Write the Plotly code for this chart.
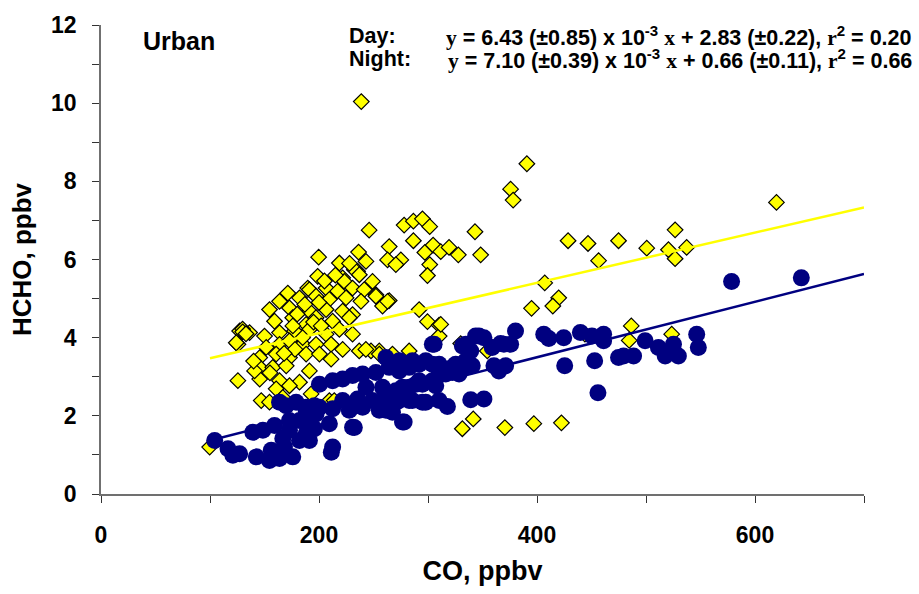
import plotly.graph_objects as go

# ---- Data ----
day_co = [375.8, 378.1, 619.7, 278.1, 286.6, 294.9, 301.6, 343.1, 264.4, 286.6,
          297.1, 304.7, 311.7, 319.3, 327.8, 348.3, 262.9, 275.1, 270.5, 301.6,
          299.5, 428.5, 446.8, 474.8, 526.7, 500.7, 520.6, 526.7, 537.3, 456.5,
          407.1, 419.9, 414.5, 395.0, 291.9, 299.5, 310.2, 310.2, 264.4, 258.3,
          486.5, 484.6, 523.6, 330.0, 255.3, 341.5, 331.5, 370.5, 397.1, 422.4,
          238.8, 390.7, 246.0, 199.7, 218.7, 236.3, 243.1, 198.8, 189.7, 221.7,
          235.4, 249.1, 252.2, 262.9, 232.4, 237.0, 223.2,
          171.4, 191.2, 206.5, 217.1, 230.8, 241.5, 252.2, 163.8, 182.1, 197.3,
          209.5, 224.8, 238.5, 154.6, 172.9, 191.2, 206.5, 221.7, 230.8, 159.2,
          175.9, 188.2, 197.3, 212.5, 227.8, 127.2, 136.3, 125.6, 150.0, 163.8,
          177.5, 191.2, 206.5, 218.7, 230.8, 151.6, 163.8, 172.9, 185.1, 197.3,
          211.1, 221.7, 145.6, 160.7, 172.9, 188.2, 200.4, 211.1, 145.6, 157.6,
          169.9, 191.2, 125.6, 145.6, 163.8, 182.1, 140.9, 160.7, 172.9, 147.0,
          154.6, 166.8, 192.8, 209.5, 236.9, 247.7, 255.3, 267.4, 99.7, 124.1,
          129.9, 214.0, 243.0, 282.7, 311.7, 354.4, 444.0, 130.0, 133.0,
          180.0, 200.0, 215.0, 205.0, 228.0, 185.0, 195.0, 178.0, 168.0, 155.0,
          140.0, 202.0, 187.0, 176.0]
day_hcho = [7.80, 7.52, 7.46, 6.88, 6.98, 7.04, 6.84, 6.71, 6.33, 6.48,
            6.18, 6.37, 6.20, 6.31, 6.12, 6.12, 5.99, 5.99, 5.87, 5.87,
            5.59, 6.48, 6.41, 6.48, 6.76, 6.29, 6.25, 6.02, 6.31, 5.97,
            5.40, 5.02, 4.81, 4.75, 4.72, 4.41, 4.32, 4.04, 4.95, 4.81,
            4.30, 3.93, 4.09, 3.85, 3.66, 1.92, 1.67, 1.70, 1.80, 1.82,
            10.04, 8.45, 6.75, 6.06, 5.91, 6.19, 5.95, 5.57, 5.27, 5.53,
            5.70, 5.44, 5.10, 4.93, 5.74, 5.61, 5.44,
            5.14, 5.23, 5.27, 5.19, 5.27, 5.23, 5.06, 4.93, 5.02, 5.06,
            4.98, 5.02, 4.93, 4.72, 4.76, 4.68, 4.72, 4.68, 4.59, 4.42,
            4.51, 4.34, 4.51, 4.42, 4.51, 4.17, 4.13, 3.83, 4.04, 4.13,
            4.17, 4.21, 4.09, 4.21, 4.09, 3.75, 3.83, 3.92, 3.83, 3.83,
            3.83, 3.70, 3.49, 3.58, 3.49, 3.58, 3.58, 3.45, 3.24, 3.24,
            3.28, 3.15, 2.90, 2.94, 2.90, 2.86, 3.15, 2.69, 2.77, 2.39,
            2.35, 2.47, 2.56, 2.39, 3.66, 3.66, 3.58, 3.58, 1.20, 3.87,
            4.22, 2.39, 3.70, 3.66, 4.34, 3.66, 4.09, 4.15, 4.10,
            4.60, 4.90, 5.60, 5.45, 5.90, 4.00, 4.40, 3.70, 3.60, 3.10,
            3.40, 4.30, 4.85, 4.30]

night_co = [578.5, 642.5, 380.3, 406.2, 410.8, 424.5, 439.8, 450.4, 461.1, 461.1,
            305.6, 331.5, 343.7, 351.3, 358.9, 369.6, 375.8, 499.2, 511.4, 525.2,
            517.6, 529.7, 546.5, 548.0, 479.4, 488.6, 425.4, 452.9, 455.9, 360.5,
            371.2, 261.4, 273.6, 285.7, 297.9, 310.2, 322.3, 334.6, 316.3, 328.5,
            291.9, 304.0, 276.6, 288.8, 261.4, 270.5, 282.7, 294.9, 310.2, 317.8,
            339.2, 351.3, 278.1, 261.4, 346.8, 366.6, 334.6, 339.2, 325.4, 340.6,
            322.3, 331.5, 365.0, 474.8, 304.0, 200.4, 212.5, 221.7, 230.8, 240.0,
            252.2, 264.4, 273.6, 282.7, 291.9, 304.0, 310.2, 243.1, 258.3, 270.5,
            282.7, 294.9, 307.1, 221.7, 235.4, 249.1, 261.4, 273.6, 285.7, 297.9,
            188.2, 200.4, 212.5, 227.8, 240.0, 255.3, 267.4, 276.6, 195.8, 209.5,
            230.8, 212.5, 188.2, 182.1, 104.3, 116.5, 121.0, 127.2, 139.3, 148.5,
            159.2, 142.5, 156.2, 154.6, 163.8, 175.9, 166.8, 163.8, 169.9, 179.0,
            188.2, 195.8, 172.9, 182.1, 191.2, 172.9, 168.3, 197.3, 191.2, 211.3,
            232.4]
night_hcho = [5.44, 5.53, 4.17, 4.09, 3.98, 4.00, 4.13, 4.04, 4.09, 3.92,
              3.83, 3.79, 4.04, 4.00, 3.75, 3.83, 3.83, 3.92, 3.75, 3.83,
              3.53, 3.53, 4.09, 3.75, 3.53, 3.53, 3.28, 3.41, 2.59, 3.28,
              3.28, 3.49, 3.41, 3.41, 3.41, 3.32, 3.24, 3.41, 3.07, 3.07,
              2.90, 2.90, 2.73, 2.81, 2.56, 2.35, 2.39, 2.35, 2.39, 2.24,
              2.41, 2.43, 1.84, 2.14, 4.04, 3.85, 3.83, 3.66, 3.32, 3.28,
              3.11, 3.20, 3.15, 3.49, 3.83, 2.81, 2.90, 2.94, 3.03, 3.07,
              3.11, 3.24, 3.15, 3.24, 3.32, 3.32, 3.15, 2.73, 2.73, 2.64,
              2.73, 2.81, 2.77, 2.39, 2.43, 2.39, 2.47, 2.39, 2.39, 2.35,
              2.14, 2.22, 2.18, 2.14, 2.22, 2.14, 2.09, 1.84, 1.67, 1.80,
              1.71, 1.20, 1.54, 1.37, 1.37, 1.16, 0.99, 1.03, 1.58, 1.63,
              1.75, 0.95, 1.12, 0.86, 0.91, 0.95, 1.42, 2.35, 2.26, 2.35,
              2.22, 2.26, 1.88, 1.88, 1.80, 1.63, 1.20, 2.05, 1.37, 1.07,
              1.70]

# regression fits (from the equations shown)
fit_x = [100, 700]
day_slope, day_icpt = 6.43e-3, 2.83
night_slope, night_icpt = 7.10e-3, 0.66
day_fit = [day_slope * x + day_icpt for x in fit_x]
night_fit = [night_slope * x + night_icpt for x in fit_x]

x_ticks = [0, 200, 400, 600]
y_ticks = [0, 2, 4, 6, 8, 10, 12]

YELLOW = "#FFFF00"
NAVY = "#000080"
SANS = "Liberation Sans, Arial, sans-serif"
SERIF = "Liberation Serif, Times New Roman, serif"

fig = go.Figure()
fig.add_trace(go.Scatter(x=day_co, y=day_hcho, mode="markers",
                         marker=dict(symbol="diamond", size=12, color=YELLOW,
                                     line=dict(color="black", width=1.2)),
                         showlegend=False))
fig.add_trace(go.Scatter(x=night_co, y=night_hcho, mode="markers",
                         marker=dict(symbol="circle", size=17, color=NAVY,
                                     line=dict(width=0)),
                         showlegend=False))
fig.add_trace(go.Scatter(x=fit_x, y=day_fit, mode="lines",
                         line=dict(color=YELLOW, width=2.5), showlegend=False))
fig.add_trace(go.Scatter(x=fit_x, y=night_fit, mode="lines",
                         line=dict(color=NAVY, width=2.5), showlegend=False))

tickfont = dict(family=SANS, size=23, color="black", weight="bold")
titlefont = dict(family=SANS, size=27, color="black", weight="bold")

fig.update_xaxes(range=[0, 700], tickvals=x_ticks, ticktext=[str(v) for v in x_ticks],
                 showline=True, linecolor="#707070", linewidth=1.5,
                 ticks="outside", ticklen=7, tickwidth=1.2, tickcolor="#333",
                 minor=dict(dtick=100, tick0=0, ticks="outside", ticklen=7,
                            tickwidth=1.2, tickcolor="#333", showgrid=False),
                 showgrid=False, zeroline=False, tickfont=tickfont,
                 ticklabelstandoff=13,
                 title=dict(text="CO, ppbv", font=titlefont, standoff=14))
fig.update_yaxes(range=[0, 12], tickvals=y_ticks, ticktext=[str(v) for v in y_ticks],
                 showline=True, linecolor="#707070", linewidth=1.5,
                 ticks="outside", ticklen=7, tickwidth=1.2, tickcolor="#333",
                 minor=dict(dtick=1, tick0=0, ticks="outside", ticklen=7,
                            tickwidth=1.2, tickcolor="#333", showgrid=False),
                 showgrid=False, zeroline=False, tickfont=tickfont,
                 ticklabelstandoff=11,
                 title=dict(text="HCHO, ppbv", font=dict(family=SANS, size=26, color="black", weight="bold"),
                            standoff=12))

def ser(t):
    return f'<span style="font-family:{SERIF}">{t}</span>'

day_eq = (f'{ser("y")} = 6.43 (±0.85) x 10<sup>-3</sup> {ser("x")} + 2.83 (±0.22), '
          f'{ser("r")}<sup>2</sup> = 0.20')
night_eq = (f'{ser("y")} = 7.10 (±0.39) x 10<sup>-3</sup> {ser("x")} + 0.66 (±0.11), '
            f'{ser("r")}<sup>2</sup> = 0.66')

eqfont = dict(family=SANS, size=21.5, color="black", weight="bold")
ann = [
    dict(text="Urban", x=0.052, y=0.966, xanchor="left", yanchor="middle",
         font=dict(family=SANS, size=25, color="black", weight="bold")),
    dict(text="Day:", x=0.322, y=0.976, xanchor="left", yanchor="middle", font=eqfont),
    dict(text="Night:", x=0.322, y=0.928, xanchor="left", yanchor="middle", font=eqfont),
    dict(text=day_eq, x=1.065, y=0.976, xanchor="right", yanchor="middle", font=eqfont),
    dict(text=night_eq, x=1.065, y=0.928, xanchor="right", yanchor="middle", font=eqfont),
]
for a in ann:
    a.update(xref="paper", yref="paper", showarrow=False)

fig.update_layout(width=919, height=594, margin=dict(l=101, r=55, t=22, b=100),
                  paper_bgcolor="white", plot_bgcolor="white",
                  annotations=ann, showlegend=False)

fig.write_html("out.html")
